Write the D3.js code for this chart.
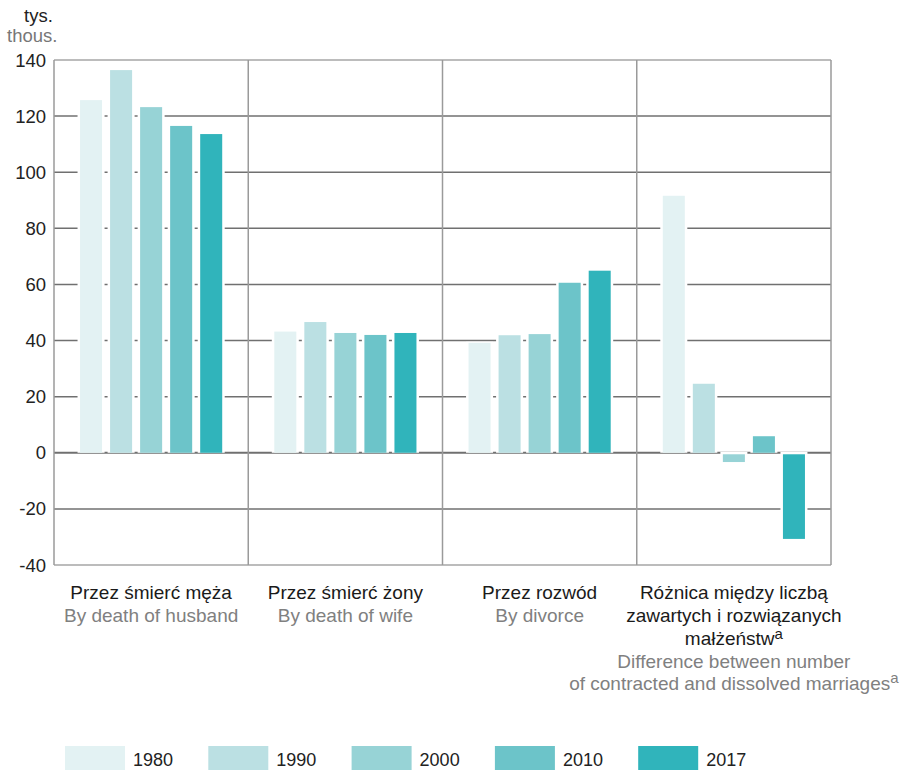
<!DOCTYPE html>
<html>
<head>
<meta charset="utf-8">
<script src="https://cdn.jsdelivr.net/npm/d3@7"></script>
<style>
  html, body { margin: 0; padding: 0; background: #fff; }
  svg { display: block; font-family: "Liberation Sans", Arial, sans-serif; }
</style>
</head>
<body>
<svg id="chart" width="914" height="770"></svg>
<script>
// categories (Polish / English labels, one line per entry)
const categoriesPl = [
  ["Przez śmierć męża"],
  ["Przez śmierć żony"],
  ["Przez rozwód"],
  ["Różnica między liczbą", "zawartych i rozwiązanych", "małżeństw"]
];
const categoriesEn = [
  ["By death of husband"],
  ["By death of wife"],
  ["By divorce"],
  ["Difference between number", "of contracted and dissolved marriages"]
];
// last line of these gets a superscript "a"
const footnoteCat = 3;

const years = ["1980", "1990", "2000", "2010", "2017"];
const colors = ["#e3f2f3", "#bbe0e3", "#97d3d6", "#6cc4c9", "#30b4bb"];

// thousands, one array per year (by category)
const values1980 = [125.7, 43.2, 39.2, 91.6];
const values1990 = [136.4, 46.6, 41.9, 24.6];
const values2000 = [123.2, 42.7, 42.3, -3.3];
const values2010 = [116.5, 42.0, 60.6, 5.9];
const values2017 = [113.6, 42.7, 64.9, -30.7];
const series = [values1980, values1990, values2000, values2010, values2017];

const yTicks = [-40, -20, 0, 20, 40, 60, 80, 100, 120, 140];

const svg = d3.select("#chart");
const margin = { left: 54, right: 831, top: 60, bottom: 565 };

const x0 = d3.scaleBand()
  .domain(d3.range(categoriesPl.length))
  .range([margin.left, margin.right]);

const x1 = d3.scaleBand()
  .domain(years)
  .range([0, x0.bandwidth()])
  .paddingInner(0.267)
  .paddingOuter(0.867);

const y = d3.scaleLinear().domain([-40, 140]).range([margin.bottom, margin.top]);

// horizontal gridlines
svg.append("g")
  .selectAll("line")
  .data(yTicks)
  .join("line")
  .attr("x1", margin.left)
  .attr("x2", margin.right)
  .attr("y1", (d) => y(d))
  .attr("y2", (d) => y(d))
  .attr("stroke", (d) => (d === 140 || d === -40 ? "#a6a6a6" : "#707070"))
  .attr("stroke-width", (d) => (d === 0 ? 2 : 1.5));

// vertical panel borders
const edges = x0.domain().map((d) => x0(d)).concat([margin.right]);
svg.append("g")
  .selectAll("line")
  .data(edges)
  .join("line")
  .attr("x1", (d) => d)
  .attr("x2", (d) => d)
  .attr("y1", margin.top)
  .attr("y2", margin.bottom)
  .attr("stroke", "#9a9a9a")
  .attr("stroke-width", 1.5);

// y tick labels
svg.append("g")
  .selectAll("text")
  .data(yTicks)
  .join("text")
  .attr("x", 46)
  .attr("y", (d) => y(d) + 6.5)
  .attr("text-anchor", "end")
  .attr("font-size", 18.5)
  .attr("fill", "#222")
  .text((d) => d);

svg.append("text").attr("x", 24).attr("y", 22)
  .attr("font-size", 18.5).attr("fill", "#222").text("tys.");
svg.append("text").attr("x", 7).attr("y", 42)
  .attr("font-size", 18.5).attr("fill", "#777").text("thous.");

// bars
const bars = [];
series.forEach((vals, si) => {
  vals.forEach((v, ci) => bars.push({ ci, si, year: years[si], v }));
});

const barG = svg.append("g");
// white halo so gridlines stop short of each bar
barG.selectAll("rect.halo")
  .data(bars)
  .join("rect")
  .attr("class", "halo")
  .attr("x", (d) => x0(d.ci) + x1(d.year) - 2.5)
  .attr("width", x1.bandwidth() + 5)
  .attr("y", (d) => Math.min(y(d.v), y(0)) - 1)
  .attr("height", (d) => Math.abs(y(d.v) - y(0)) + 1)
  .attr("fill", "#fff");

barG.selectAll("rect.bar")
  .data(bars)
  .join("rect")
  .attr("class", "bar")
  .attr("x", (d) => x0(d.ci) + x1(d.year))
  .attr("width", x1.bandwidth())
  .attr("y", (d) => (d.v >= 0 ? y(d.v) : y(0) + 1.5))
  .attr("height", (d) => Math.abs(y(d.v) - y(0)) - (d.v >= 0 ? 0 : 1.5))
  .attr("fill", (d) => colors[d.si]);

// category labels
const labG = svg.append("g").attr("font-size", 19).attr("text-anchor", "middle");
categoriesPl.forEach((lines, ci) => {
  const cx = x0(ci) + x0.bandwidth() / 2;
  lines.forEach((line, li) => {
    const t = labG.append("text")
      .attr("x", cx)
      .attr("y", 599 + li * 23)
      .attr("fill", "#1a1a1a");
    t.append("tspan").text(line);
    if (ci === footnoteCat && li === lines.length - 1) {
      t.append("tspan").attr("dy", -6).attr("font-size", 15).text("a");
    }
  });
  categoriesEn[ci].forEach((line, li) => {
    const t = labG.append("text")
      .attr("x", cx)
      .attr("y", (lines.length > 1 ? 668 : 622) + li * 22)
      .attr("fill", "#808080");
    t.append("tspan").text(line);
    if (ci === footnoteCat && li === categoriesEn[ci].length - 1) {
      t.append("tspan").attr("dy", -7).attr("font-size", 15).text("a");
    }
  });
});

// legend
const lx = d3.scaleBand().domain(years).range([65, 65 + 143.3 * 5]);
const leg = svg.append("g")
  .selectAll("g")
  .data(years)
  .join("g")
  .attr("transform", (d) => `translate(${lx(d)},746)`);
leg.append("rect")
  .attr("width", 60)
  .attr("height", 24)
  .attr("fill", (d, i) => colors[i]);
leg.append("text")
  .attr("x", 68)
  .attr("y", 20)
  .attr("font-size", 18)
  .attr("fill", "#222")
  .text((d) => d);
</script>
</body>
</html>
